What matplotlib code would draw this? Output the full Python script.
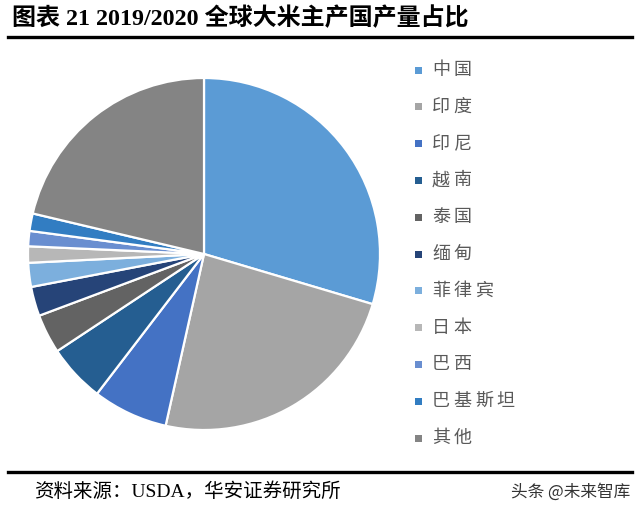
import matplotlib
matplotlib.use("Agg")
import matplotlib.pyplot as plt
from matplotlib.lines import Line2D
from matplotlib.patches import Rectangle

plt.rcParams['font.family'] = ['Noto Sans CJK SC', 'DejaVu Sans']

# Share of global rice production, 2019/2020 (%)
countries = ["中国", "印度", "印尼", "越南", "泰国", "缅甸", "菲律宾", "日本", "巴西", "巴基斯坦", "其他"]
shares = [29.6, 23.9, 6.9, 5.3, 3.6, 2.7, 2.2, 1.5, 1.4, 1.6, 21.3]
colors = ["#5B9BD5", "#A5A5A5", "#4472C4", "#255E91", "#636363", "#264478",
          "#7CAFDD", "#B7B7B7", "#698ED0", "#327DC2", "#848484"]

W, H = 640, 518
fig = plt.figure(figsize=(W / 100, H / 100), dpi=100)

# pie centred at (204, 254) px, radius ~176 px
cx, cy, r = 204, 254, 176
ax = fig.add_axes([(cx - r) / W, (H - cy - r) / H, 2 * r / W, 2 * r / H])
ax.pie(shares, colors=colors, startangle=90, counterclock=False,
       wedgeprops=dict(edgecolor="white", linewidth=1.6))
ax.set_xlim(-1, 1)
ax.set_ylim(-1, 1)
ax.set_aspect("equal")
ax.axis("off")

# legend: square marker + widely spaced label
y0, dy = 70, 36.8
pitch = 21.5
for i, (name, c) in enumerate(zip(countries, colors)):
    y = H - (y0 + i * dy)
    fig.add_artist(Rectangle((415 / W, (y - 3.5) / H), 7 / W, 7 / H,
                             transform=fig.transFigure, facecolor=c, edgecolor="none"))
    for k, ch in enumerate(name):
        fig.text((432 + k * pitch) / W, y / H, ch, fontsize=13, color="#595959",
                 va="center", ha="left")

# title and rules
fig.text(12 / W, (H - 18) / H, "图表 21 2019/2020 全球大米主产国产量占比",
         fontsize=17.3, fontweight="bold", va="center", ha="left",
         family=["Liberation Serif", "Noto Sans CJK SC"])
fig.add_artist(Line2D([8 / W, 632 / W], [(H - 37) / H] * 2, color="black", linewidth=2.4,
                      transform=fig.transFigure))
fig.add_artist(Line2D([8 / W, 632 / W], [(H - 472) / H] * 2, color="black", linewidth=2.4,
                      transform=fig.transFigure))

fig.text(34 / W, (H - 492) / H, "资料来源：USDA，华安证券研究所", fontsize=14,
         va="center", ha="left", family=["Liberation Serif", "Noto Sans CJK SC"])
fig.text(630 / W, (H - 492) / H, "头条 @未来智库", fontsize=12, color="#333333",
         va="center", ha="right")

fig.savefig("out.png", dpi=100)
